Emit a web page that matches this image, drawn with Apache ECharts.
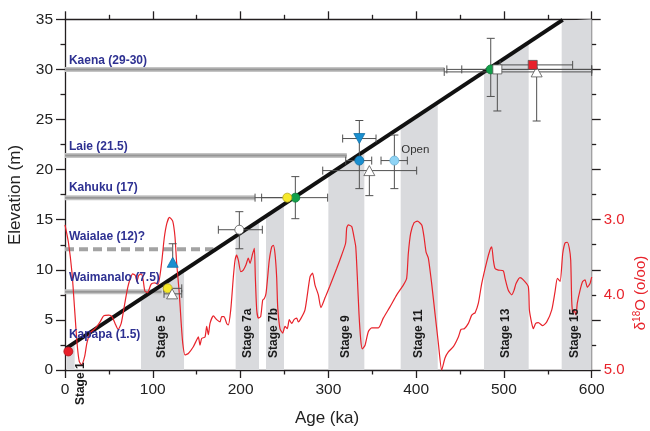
<!DOCTYPE html>
<html><head><meta charset="utf-8">
<script src="https://cdn.jsdelivr.net/npm/echarts/dist/echarts.min.js"></script>
<style>html,body{margin:0;padding:0;background:#fff}#c{width:650px;height:431px}</style>
</head><body><div id="c"></div>
<script>
// ---------- DATA ----------
const xTicks = [0, 100, 200, 300, 400, 500, 600];
const yTicks = [0, 5, 10, 15, 20, 25, 30, 35];
const d18oTickLabels = ['3.0', '4.0', '5.0'];

// glacial/interglacial stages: [startAge, endAge, topElevAtStart, topElevAtEnd]
const stageBands = [
  [2, 11, 2.2, 2.72], [86.6, 135.6, 7.1, 9.93], [194.4, 221, 13.34, 14.88],
  [229, 249.5, 15.34, 16.53], [300, 341, 19.45, 21.82], [382.4, 424.6, 24.22, 26.66],
  [477.3, 528.2, 29.71, 32.66], [565.8, 600, 34.85, 35]
];
const stageNames = ['Stage 1', 'Stage 5', 'Stage 7a', 'Stage 7b', 'Stage 9', 'Stage 11', 'Stage 13', 'Stage 15'];
const stageLabelAt = [[18, -3.5], [110.5, 1.2], [208.5, 1.2], [238.1, 1.2], [320.1, 1.2], [403.3, 1.2], [502.4, 1.2], [580.2, 1.2]];

// shoreline terraces
const terraceNames = ['Kaena (29-30)', 'Laie (21.5)', 'Kahuku (17)', 'Waialae (12)?', 'Waimanalo (7.5)', 'Kapapa (1.5)'];
const terraceLabelAt = [[4.5, 30.9], [4.5, 22.3], [4.5, 18.2], [4.5, 13.3], [4.5, 9.2], [4.5, 3.56]];
const terraceSolid = [[[0, 30.0], [432, 30.0]], [[0, 21.4], [321, 21.4]], [[0, 17.2], [216.5, 17.2]], [[0, 7.8], [110, 7.8]]];
const terraceDashed = [[[0, 12.05], [169, 12.05]]];

// uplift regression line
const upliftLine = [[2, 2.2], [567, 34.95]];

// dated samples
const greenCircles = [[485, 30.0], [262.4, 17.2]];
const yellowCircles = [[253.2, 17.2], [117, 8.15]];
const blueCircles = [[335.3, 20.9]];
const lightBlueCircles = [[375.2, 20.9]];
const whiteCircles = [[198.6, 14.0]];
const redCircles = [[3.8, 1.85]];
const blueUpTriangles = [[122.7, 10.75]];
const blueDownTriangles = [[335.3, 23.1]];
const whiteTriangles = [[122, 7.6], [346.7, 19.9], [537.3, 29.75]];
const whiteSquares = [[492.5, 30.0]];
const redSquares = [[532.8, 30.45]];

// error bars: [age, elev, ageLow, ageHigh, elevLow, elevHigh] (null = none)
const errorBars = [
  [485, 30.0, 452, 600, 27.3, 33.1],
  [492.5, 30.0, 435, 600, 25.85, null],
  [532.8, 30.45, 495.6, 578.3, null, null],
  [537.3, 29.75, 432, 600, 24.85, null],
  [335.3, 23.1, 316.3, 354.3, 21.0, 24.9],
  [335.3, 20.9, 319.8, 349.4, 18.1, null],
  [346.7, 19.9, 293.6, 400.6, 17.4, null],
  [375.2, 20.9, 360, 390, 18.1, 23.45],
  [262.4, 17.2, 216.5, 299.2, 15.1, 19.3],
  [253.2, 17.2, 224, null, null, null],
  [198.6, 14.0, 174.7, 224.8, 12.1, 15.8],
  [122.7, 10.75, null, null, null, 12.6],
  [117, 8.15, 112.8, 133, null, null],
  [122, 7.6, 112.8, 133, null, null]
];
const openLabelAt = [[383, 21.95]];

// benthic δ18O record: [age ka, δ18O per mil]
const d18oCurve = [
  [0,3.07],[4,3.31],[8,3.71],[11,4.20],[13.7,4.64],[16.3,4.89],[19,4.93],[22.4,4.82],[25,4.64],[29,4.50],
  [35,4.44],[40,4.36],[44,4.28],[50,4.27],[53.5,4.29],[57,4.38],[60.5,4.46],[64,4.38],[68,4.12],[71.5,3.90],
  [74.5,3.78],[77,3.72],[80,3.74],[82,3.82],[84,3.74],[87,3.72],[89,3.80],[91,3.95],[94,3.97],[98,3.86],
  [102,3.84],[106,3.86],[110,3.58],[113,3.25],[116,3.05],[119,2.97],[122.7,3.02],[125.3,3.23],[127.2,3.58],
  [130.2,3.98],[132.1,4.33],[134.1,4.64],[136.7,4.80],[140.5,4.78],[146.2,4.69],[150,4.60],[151.9,4.56],
  [153.8,4.67],[155.7,4.58],[159.5,4.56],[161.4,4.42],[163.3,4.53],[165.2,4.38],[169,4.28],[172.8,4.33],
  [176.6,4.36],[178.5,4.29],[181.1,4.29],[184.2,4.38],[186,4.40],[188.8,4.20],[191.8,3.76],[193.7,3.54],
  [195.6,3.47],[197.5,3.54],[200.2,3.69],[203.1,3.67],[206.2,3.60],[208.8,3.51],[210.8,3.58],[213.8,3.45],
  [215.7,3.38],[216.8,3.76],[218.4,4.20],[220.3,4.31],[222.9,4.29],[225.2,4.07],[227.1,4.05],[229,3.98],
  [230.9,3.76],[232.7,3.54],[235.5,3.36],[237.3,3.34],[239.2,3.45],[241.1,3.76],[242.3,4.16],[244.9,4.45],
  [248,4.51],[250.6,4.42],[253.2,4.45],[255.5,4.33],[258.3,4.38],[260.9,4.33],[263.9,4.31],[265.8,4.36],
  [268.5,4.32],[273.4,4.20],[279.1,3.76],[282,3.71],[284.8,3.87],[288.6,4.00],[291.5,4.17],[296.2,4.04],
  [301.5,3.89],[309.5,3.65],[315.2,3.47],[319.7,3.31],[320.9,3.11],[322.7,3.07],[326.6,3.09],[329.2,3.23],
  [331.2,3.36],[333,3.76],[334.9,4.25],[336.9,4.60],[338.7,4.72],[341.8,4.67],[345.5,4.49],[349.4,4.44],
  [357,4.44],[362.6,4.31],[370.2,4.16],[377.9,4.00],[385.4,3.87],[389.2,3.78],[391.1,3.45],[393.8,3.18],
  [397.6,3.04],[401.4,3.02],[406.4,3.07],[409,3.23],[411.3,3.43],[413.9,3.51],[417.7,3.85],[421.5,4.25],
  [425.3,4.64],[429.1,5.0],[432.9,4.84],[436.7,4.76],[442.4,4.69],[448.1,4.56],[451.1,4.46],[454.9,4.45],
  [459.5,4.38],[463.3,4.27],[465.2,4.25],[467.1,4.24],[470.9,4.11],[474.7,3.85],[480.4,3.56],[484.2,3.40],
  [486.1,3.36],[488,3.54],[489.9,3.65],[493.6,3.67],[499.3,3.68],[501.3,3.78],[505,3.94],[508.9,4.00],
  [511.5,3.94],[513.8,3.85],[518.3,3.77],[522.1,3.80],[527.8,3.89],[529,4.20],[531.7,4.38],[533.5,4.45],
  [536.2,4.38],[539.2,4.37],[544.2,4.41],[548.8,4.36],[554.5,4.20],[558.2,3.96],[560.9,3.78],[564,3.82],
  [567,3.45],[569.6,3.31],[572.2,3.30],[574.5,3.38],[576.1,3.54],[577.2,4.07],[578.4,4.25],[579.9,4.20],
  [582.1,4.27],[583.6,4.11],[586.7,3.94],[589.8,3.82],[592.4,3.80],[595,3.90],[598.1,3.85],[600,3.76]
];

// ---------- CHART ----------
const FONT = '"Liberation Sans", Arial, Helvetica, sans-serif';
const AX = '#231f20';
const RED = '#e8232b';
const chart = echarts.init(document.getElementById('c'), null, {renderer: 'canvas'});

function axisBase() {
  return {
    axisLine: {show: true, onZero: false, lineStyle: {color: AX, width: 1.3}},
    axisTick: {show: true, length: 8, lineStyle: {color: AX, width: 1.3}},
    minorTick: {show: true, splitNumber: 2, length: 4.5, lineStyle: {color: AX, width: 1.3}},
    splitLine: {show: false}, minorSplitLine: {show: false}
  };
}

const lineCommon = {type: 'line', xAxisIndex: 0, yAxisIndex: 0, symbol: 'none', silent: true, animation: false};

const series = [];
// stage bands
series.push({
  type: 'custom', xAxisIndex: 0, yAxisIndex: 0, z: 1, silent: true,
  data: stageBands, encode: {x: [0, 1], y: [2, 3]},
  renderItem: function (params, api) {
    const s = api.value(0), e = api.value(1), ts = api.value(2), te = api.value(3);
    return {type: 'polygon', shape: {points: [api.coord([s, 0]), api.coord([e, 0]), api.coord([e, te]), api.coord([s, ts])]},
      style: {fill: '#d9dadd'}};
  }
});
// terrace lines
terraceSolid.forEach(function (seg) {
  series.push(Object.assign({}, lineCommon, {z: 2, data: seg, lineStyle: {color: '#c4c4c4', width: 5}}));
  series.push(Object.assign({}, lineCommon, {z: 2, data: seg, lineStyle: {color: '#969696', width: 2}}));
});
terraceDashed.forEach(function (seg) {
  series.push(Object.assign({}, lineCommon, {z: 2, data: seg, lineStyle: {color: '#a3a3a3', width: 4, type: [9, 5]}}));
});
// uplift line
series.push(Object.assign({}, lineCommon, {z: 3, data: upliftLine, lineStyle: {color: '#111', width: 4}}));
// d18O curve
series.push({type: 'line', xAxisIndex: 0, yAxisIndex: 1, z: 4, symbol: 'none', smooth: 0.2, silent: true,
  data: d18oCurve, lineStyle: {color: RED, width: 1.2}});
// stage labels
series.push({
  type: 'custom', xAxisIndex: 0, yAxisIndex: 0, z: 5, silent: true, clip: false,
  data: stageLabelAt,
  renderItem: function (params, api) {
    const p = api.coord([api.value(0), api.value(1)]);
    return {type: 'text', x: p[0], y: p[1], rotation: Math.PI / 2,
      style: {text: stageNames[params.dataIndex], fill: '#1a1a1a', fontSize: 12, fontWeight: 'bold', fontFamily: FONT,
        align: 'left', verticalAlign: 'middle'}};
  }
});
// error bars
series.push({
  type: 'custom', xAxisIndex: 0, yAxisIndex: 0, z: 6, silent: true, clip: false,
  data: errorBars.map(function (r) { return [r[0], r[1]]; }),
  renderItem: function (params, api) {
    const r = errorBars[params.dataIndex];
    const c = api.coord([r[0], r[1]]);
    const ch = [];
    const st = {stroke: '#505050', lineWidth: 1};
    const cap = 4;
    function seg(x1, y1, x2, y2) { ch.push({type: 'line', shape: {x1: x1, y1: y1, x2: x2, y2: y2}, style: st}); }
    [r[2], r[3]].forEach(function (v) {
      if (v === null) return;
      const p = api.coord([v, r[1]]);
      seg(c[0], c[1], p[0], p[1]);
      seg(p[0], p[1] - cap, p[0], p[1] + cap);
    });
    [r[4], r[5]].forEach(function (v) {
      if (v === null) return;
      const p = api.coord([r[0], v]);
      seg(c[0], c[1], p[0], p[1]);
      seg(p[0] - cap, p[1], p[0] + cap, p[1]);
    });
    return {type: 'group', children: ch};
  }
});
// markers
function sc(data, symbol, size, color, border, rot) {
  series.push({type: 'scatter', xAxisIndex: 0, yAxisIndex: 0, z: 7, silent: true, data: data, symbol: symbol,
    symbolSize: size, symbolRotate: rot || 0,
    itemStyle: {color: color, borderColor: border, borderWidth: 0.8, opacity: 1}});
}
sc(greenCircles, 'circle', 9, '#13a04a', '#0d7a38');
sc(yellowCircles, 'circle', 9, '#f6e92a', '#b5a820');
sc(blueCircles, 'circle', 9, '#1a8fd0', '#1270a6');
sc(lightBlueCircles, 'circle', 9, '#8fd3f4', '#6ab0d4');
sc(whiteCircles, 'circle', 9, '#ffffff', '#555');
sc(redCircles, 'circle', 9, '#e8202a', '#b01820');
sc(blueUpTriangles, 'triangle', [11, 10], '#1a8fd0', '#1270a6');
sc(blueDownTriangles, 'triangle', [11, 10], '#1a8fd0', '#1270a6', 180);
sc(whiteTriangles, 'triangle', [11, 10], '#ffffff', '#555');
sc(whiteSquares, 'rect', 9, '#ffffff', '#555');
sc(redSquares, 'rect', 9, '#e8202a', '#555');
// terrace labels
series.push({
  type: 'custom', xAxisIndex: 0, yAxisIndex: 0, z: 8, silent: true, clip: false,
  data: terraceLabelAt,
  renderItem: function (params, api) {
    const p = api.coord([api.value(0), api.value(1)]);
    return {type: 'text', x: p[0], y: p[1],
      style: {text: terraceNames[params.dataIndex], fill: '#2e3192', fontSize: 12, fontWeight: 'bold', fontFamily: FONT,
        align: 'left', verticalAlign: 'middle'}};
  }
});
series.push({
  type: 'custom', xAxisIndex: 0, yAxisIndex: 0, z: 8, silent: true, clip: false,
  data: openLabelAt,
  renderItem: function (params, api) {
    const p = api.coord([api.value(0), api.value(1)]);
    return {type: 'text', x: p[0], y: p[1],
      style: {text: 'Open', fill: '#333', fontSize: 11.5, fontFamily: FONT, align: 'left', verticalAlign: 'middle'}};
  }
});

const option = {
  animation: false,
  backgroundColor: '#fff',
  textStyle: {fontFamily: FONT},
  grid: {left: 65, right: 58.3, top: 19.3, bottom: 61, containLabel: false},
  xAxis: [
    Object.assign(axisBase(), {type: 'value', min: xTicks[0], max: xTicks[xTicks.length - 1], interval: 100, position: 'bottom',
      axisLabel: {fontSize: 15.5, color: '#222', margin: 12, fontFamily: FONT}}),
    Object.assign(axisBase(), {type: 'value', min: xTicks[0], max: xTicks[xTicks.length - 1], interval: 100, position: 'top',
      axisLabel: {show: false}})
  ],
  yAxis: [
    Object.assign(axisBase(), {type: 'value', min: yTicks[0], max: yTicks[yTicks.length - 1], interval: 5, position: 'left',
      axisTick: {show: true, length: 9, lineStyle: {color: AX, width: 1.3}},
      axisLabel: {fontSize: 15.5, color: '#222', margin: 12, fontFamily: FONT}}),
    Object.assign(axisBase(), {type: 'value', min: 1 / 3, max: 5, interval: 2 / 3, inverse: true, position: 'right', offset: 0,
      axisTick: {show: true, length: 9, lineStyle: {color: AX, width: 1.3}},
      axisLabel: {show: false}}),
    {type: 'value', min: 1 / 3, max: 5, interval: 1 / 3, inverse: true, position: 'right', offset: 0,
      axisLine: {show: false}, axisTick: {show: false}, splitLine: {show: false},
      axisLabel: {fontSize: 15, color: RED, margin: 12, fontFamily: FONT, showMinLabel: true, showMaxLabel: true,
        formatter: function (v) {
          for (let i = 0; i < d18oTickLabels.length; i++) {
            if (Math.abs(v - parseFloat(d18oTickLabels[i])) < 0.01) return d18oTickLabels[i];
          }
          return '';
        }}}
  ],
  graphic: [
    {type: 'text', x: 15, y: 195, rotation: Math.PI / 2,
      style: {text: 'Elevation (m)', fill: '#222', fontSize: 17, fontFamily: FONT, align: 'center', verticalAlign: 'middle'}},
    {type: 'text', x: 327, y: 418,
      style: {text: 'Age (ka)', fill: '#222', fontSize: 17, fontFamily: FONT, align: 'center', verticalAlign: 'middle'}},
    {type: 'text', x: 641, y: 293, rotation: Math.PI / 2,
      style: {text: '{a|δ}{s|18}{a|O (o/oo)}', align: 'center', verticalAlign: 'middle', fill: RED, fontFamily: FONT,
        rich: {a: {fontSize: 15, fill: RED, fontFamily: FONT, lineHeight: 17},
               s: {fontSize: 10, fill: RED, fontFamily: FONT, verticalAlign: 'top', lineHeight: 11}}}}
  ],
  series: series
};
chart.setOption(option);
</script></body></html>
